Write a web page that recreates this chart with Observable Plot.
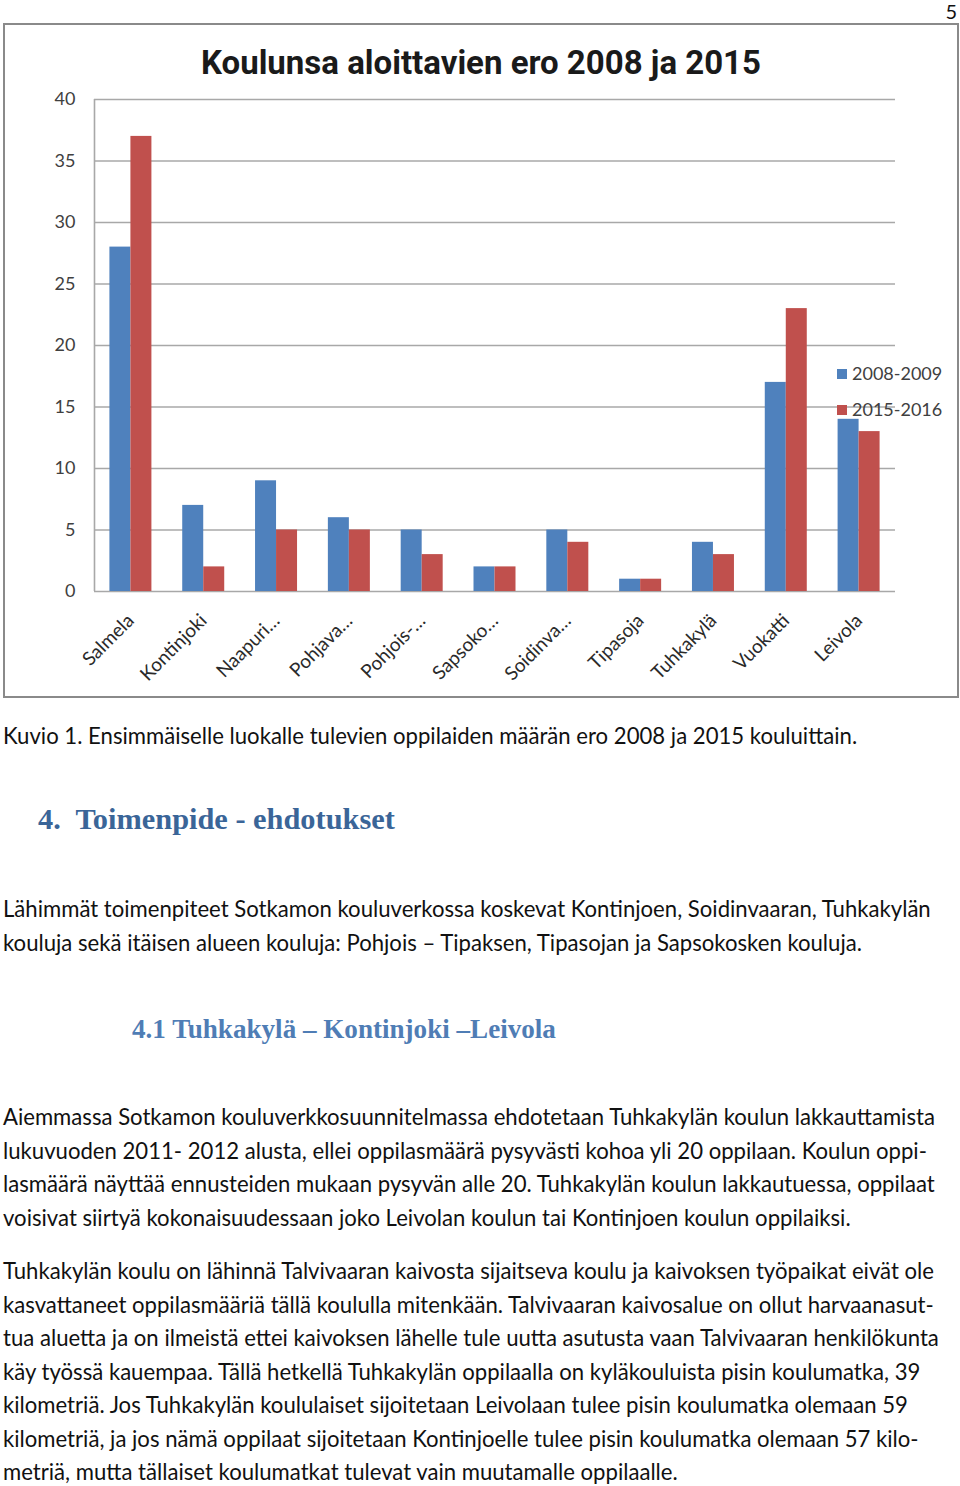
<!DOCTYPE html>
<html><head><meta charset="utf-8">
<script src="https://cdn.jsdelivr.net/npm/d3@7"></script>
<script src="https://cdn.jsdelivr.net/npm/@observablehq/plot@0.6"></script>
<style>
html,body{margin:0;padding:0;background:#fff}
body{width:960px;height:1486px;position:relative;overflow:hidden;font-family:Lato,"Open Sans",sans-serif;color:#111}
#textlayer{position:absolute;left:0;top:0}
#chartbox{position:absolute;left:3px;top:23px;width:956px;height:675px;box-sizing:border-box;border:2px solid #8a8a8a;background:#fff}
#chartbox svg{position:absolute;left:0;top:0}
.leg{position:absolute;font-family:Lato,sans-serif;font-size:18px;color:#404040;white-space:nowrap;line-height:1}
.leg i{display:inline-block;width:10px;height:10px;margin-right:5px;vertical-align:1px}
</style></head><body>
<svg id="textlayer" width="960" height="1486" xmlns="http://www.w3.org/2000/svg"></svg>
<div id="chartbox"></div>
<script>
// ---- chart data ----
const schools = ["Salmela","Kontinjoki","Naapuri…","Pohjava…","Pohjois-…","Sapsoko…","Soidinva…","Tipasoja","Tuhkakylä","Vuokatti","Leivola"];
const seriesNames = ["2008-2009","2015-2016"];
const v2008 = [28,7,9,6,5,2,5,1,4,17,14];
const v2015 = [37,2,5,5,3,2,4,1,3,23,13];
const yTicks = [0,5,10,15,20,25,30,35,40];
const seriesColors = ["#4F81BD","#C0504D"];
const chartTitle = "Koulunsa aloittavien ero 2008 ja 2015";

const data = schools.flatMap((s,i)=>[
  {school:s, series:seriesNames[0], value:v2008[i]},
  {school:s, series:seriesNames[1], value:v2015[i]}
]);

const box = document.getElementById("chartbox");
const chart = Plot.plot({
  width:952, height:671,
  marginLeft:89, marginRight:62, marginTop:74, marginBottom:105,
  style:{fontFamily:"Lato, sans-serif", fontSize:"18px", color:"#404040", background:"transparent", overflow:"visible"},
  x:{domain:schools, padding:0, round:false, label:null},
  y:{domain:[0,40], label:null},
  color:{domain:seriesNames, range:seriesColors},
  marks:[
    Plot.ruleY(yTicks,{stroke:"#a8a8a8", strokeWidth:1.6}),
    Plot.ruleX([schools[0]],{y1:0, y2:40, dx:-36.41, stroke:"#a8a8a8", strokeWidth:1.6}),
    Plot.barY(data.filter(d=>d.series===seriesNames[0]),{x:"school", y:"value", fill:"series", insetLeft:15.41, insetRight:36.41}),
    Plot.barY(data.filter(d=>d.series===seriesNames[1]),{x:"school", y:"value", fill:"series", insetLeft:36.41, insetRight:15.41}),
    Plot.axisY(yTicks,{tickSize:0, tickPadding:19, label:null, fontSize:18, fill:"#404040"}),
    Plot.axisX({tickSize:0, tickRotate:-45, tickPadding:26, label:null, fontSize:19, fill:"#2a2a2a"})
  ]
});
box.appendChild(chart);

// chart title
const tl = document.createElement("div");
tl.textContent = chartTitle;
tl.style.cssText = "position:absolute;left:0;width:952px;text-align:center;top:21px;font-family:'Liberation Sans Narrow','Arial Narrow','Roboto',sans-serif;font-weight:bold;font-size:33px;color:#1a1a1a;line-height:1;white-space:nowrap";
box.appendChild(tl);

// legend
seriesNames.forEach((n,i)=>{
  const d = document.createElement("div");
  d.className = "leg";
  d.style.left = (832)+"px";
  d.style.top = (339 + i*36)+"px";
  d.innerHTML = `<i style="background:${seriesColors[i]}"></i>${n}`;
  box.appendChild(d);
});

// ---- page text ----
const NS = "http://www.w3.org/2000/svg";
const layer = document.getElementById("textlayer");
function addText(str, x, y, attrs){
  const t = document.createElementNS(NS,"text");
  t.setAttribute("x",x); t.setAttribute("y",y);
  for (const k in attrs) t.setAttribute(k, attrs[k]);
  t.textContent = str; layer.appendChild(t); return t;
}
function fitSize(t, target){ t.setAttribute("font-size",100); const w = t.getComputedTextLength(); return 100*target/w; }

const bodyFont = {"font-family":"Lato, 'Open Sans', sans-serif", fill:"#111"};
const headFont = {"font-family":"'Liberation Serif', 'DejaVu Serif', serif", "font-weight":"bold"};

const pageNum = addText("5", 957, 19, {...bodyFont, "text-anchor":"end", "font-size":20});

const caption = "Kuvio 1. Ensimmäiselle luokalle tulevien oppilaiden määrän ero 2008 ja 2015 kouluittain.";
const heading1 = "4.  Toimenpide - ehdotukset";
const heading2 = "4.1 Tuhkakylä – Kontinjoki –Leivola";
const para1 = [
 "Lähimmät toimenpiteet Sotkamon kouluverkossa koskevat Kontinjoen, Soidinvaaran, Tuhkakylän",
 "kouluja sekä itäisen alueen kouluja: Pohjois – Tipaksen, Tipasojan ja Sapsokosken kouluja."
];
const para2 = [
 "Aiemmassa Sotkamon kouluverkkosuunnitelmassa ehdotetaan Tuhkakylän koulun lakkauttamista",
 "lukuvuoden 2011- 2012 alusta, ellei oppilasmäärä pysyvästi kohoa yli 20 oppilaan. Koulun oppi-",
 "lasmäärä näyttää ennusteiden mukaan pysyvän alle 20. Tuhkakylän koulun lakkautuessa, oppilaat",
 "voisivat siirtyä kokonaisuudessaan joko Leivolan koulun tai Kontinjoen koulun oppilaiksi."
];
const para3 = [
 "Tuhkakylän koulu on lähinnä Talvivaaran kaivosta sijaitseva koulu ja kaivoksen työpaikat eivät ole",
 "kasvattaneet oppilasmääriä tällä koululla mitenkään. Talvivaaran kaivosalue on ollut harvaanasut-",
 "tua aluetta ja on ilmeistä ettei kaivoksen lähelle tule uutta asutusta vaan Talvivaaran henkilökunta",
 "käy työssä kauempaa. Tällä hetkellä Tuhkakylän oppilaalla on kyläkouluista pisin koulumatka, 39",
 "kilometriä. Jos Tuhkakylän koululaiset sijoitetaan Leivolaan tulee pisin koulumatka olemaan 59",
 "kilometriä, ja jos nämä oppilaat sijoitetaan Kontinjoelle tulee pisin koulumatka olemaan 57 kilo-",
 "metriä, mutta tällaiset koulumatkat tulevat vain muutamalle oppilaalle."
];

const capT = addText(caption, 3, 744, bodyFont);
const bodySize = fitSize(capT, 855);
capT.setAttribute("font-size", bodySize);

const h1 = addText(heading1, 38, 829, {...headFont, fill:"#3A6598"});
h1.style.whiteSpace = "pre";
h1.setAttribute("font-size", fitSize(h1, 357));
const h2 = addText(heading2, 132, 1038, {...headFont, fill:"#4F7DB5"});
h2.setAttribute("font-size", fitSize(h2, 424));

const lh = 33.5;
para1.forEach((s,i)=>addText(s, 3, 917 + i*lh, {...bodyFont, "font-size":bodySize}));
para2.forEach((s,i)=>addText(s, 3, 1125 + i*lh, {...bodyFont, "font-size":bodySize}));
para3.forEach((s,i)=>addText(s, 3, 1279 + i*lh, {...bodyFont, "font-size":bodySize}));
</script>
</body></html>
